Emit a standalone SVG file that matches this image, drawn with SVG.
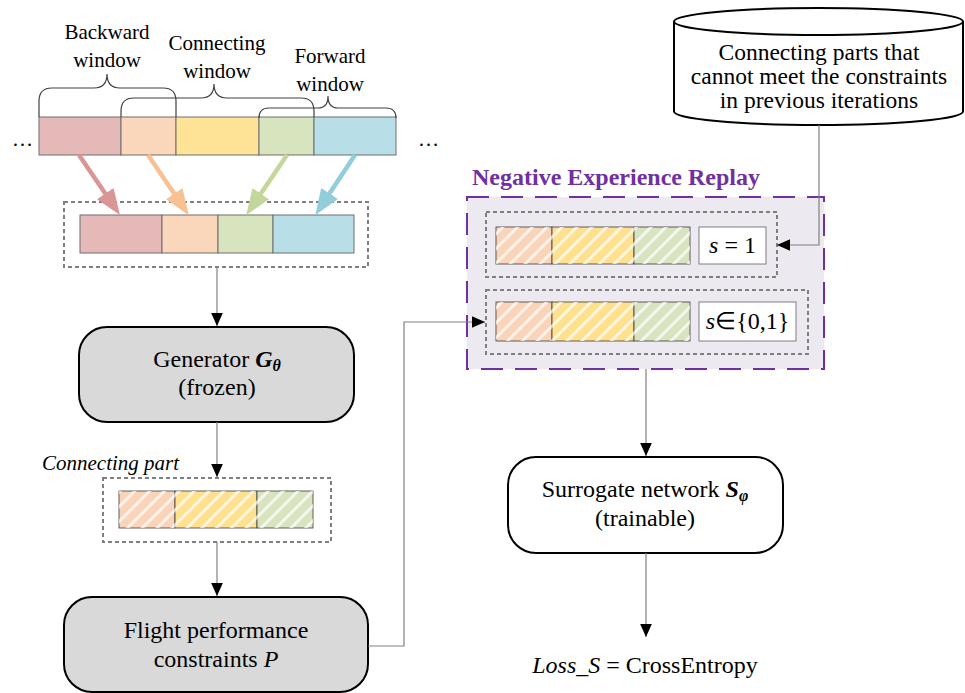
<svg xmlns="http://www.w3.org/2000/svg" width="965" height="693" viewBox="0 0 965 693">
<style>
.lbl{font-size:21px}
.main{font-size:24px}
.it{font-style:italic}
.bi{font-style:italic;font-weight:bold}
.seg{stroke:#6e6e6e;stroke-width:1}
.hseg{stroke:#3a3a3a;stroke-width:0.8}
.dash{fill:none;stroke:#7f7f7f;stroke-width:2;stroke-dasharray:4 3}
.conn{fill:none;stroke:#808080;stroke-width:1.2}
.brace{fill:none;stroke:#404040;stroke-width:1.2}
.box{stroke:#000;stroke-width:2}
</style>
<defs>
<pattern id="hatch" patternUnits="userSpaceOnUse" width="10.5" height="10.5" patternTransform="rotate(45)">
<rect x="0" y="0" width="3" height="10.5" fill="#fff" fill-opacity="0.7"/>
</pattern>
<marker id="ah" viewBox="0 0 10 10" refX="10" refY="5" markerWidth="13" markerHeight="13" markerUnits="userSpaceOnUse" orient="auto"><path d="M0,0.5 L10,5 L0,9.5 z" fill="#000"/></marker>
<marker id="apink" viewBox="0 0 13 10" refX="6.5" refY="5" markerWidth="26" markerHeight="20" markerUnits="userSpaceOnUse" orient="auto"><path d="M0,0 L13,5 L0,10 z" fill="#D99694"/></marker>
<marker id="apeach" viewBox="0 0 13 10" refX="6.5" refY="5" markerWidth="26" markerHeight="20" markerUnits="userSpaceOnUse" orient="auto"><path d="M0,0 L13,5 L0,10 z" fill="#F8C193"/></marker>
<marker id="agreen" viewBox="0 0 13 10" refX="6.5" refY="5" markerWidth="26" markerHeight="20" markerUnits="userSpaceOnUse" orient="auto"><path d="M0,0 L13,5 L0,10 z" fill="#C3D69B"/></marker>
<marker id="ablue" viewBox="0 0 13 10" refX="6.5" refY="5" markerWidth="26" markerHeight="20" markerUnits="userSpaceOnUse" orient="auto"><path d="M0,0 L13,5 L0,10 z" fill="#92CDDC"/></marker>
</defs>

<g id="windows" font-family="Liberation Serif">
<text class="lbl" x="12" y="146" font-family="Liberation Serif">…</text>
<text class="lbl" x="418" y="146" font-family="Liberation Serif">…</text>
<rect class="seg" x="39" y="117" width="82" height="38" fill="#E5B9B8"/>
<rect class="seg" x="121" y="117" width="55" height="38" fill="#FAD7BA"/>
<rect class="seg" x="176" y="117" width="83" height="38" fill="#FEE296"/>
<rect class="seg" x="259" y="117" width="55" height="38" fill="#D8E4BE"/>
<rect class="seg" x="314" y="117" width="82" height="38" fill="#B8DEE8"/>
<path class="brace" d="M39,117 V101 Q39,88 52,88 H94 Q107,88 107,74 Q107,88 120,88 H163 Q176,88 176,101 V117"/>
<path class="brace" d="M121,117 V111 Q121,98 134,98 H201 Q214,98 214,84 Q214,98 227,98 H301 Q314,98 314,111 V117"/>
<path class="brace" d="M259,117 V118 Q259,108 269,108 H318 Q328,108 328,96 Q328,108 338,108 H386 Q396,108 396,118"/>
<text class="lbl" x="107" y="39" text-anchor="middle" font-family="Liberation Serif">Backward</text>
<text class="lbl" x="107" y="67" text-anchor="middle" font-family="Liberation Serif">window</text>
<text class="lbl" x="217" y="50" text-anchor="middle" font-family="Liberation Serif">Connecting</text>
<text class="lbl" x="217" y="78" text-anchor="middle" font-family="Liberation Serif">window</text>
<text class="lbl" x="330" y="63" text-anchor="middle" font-family="Liberation Serif">Forward</text>
<text class="lbl" x="330" y="91" text-anchor="middle" font-family="Liberation Serif">window</text>
</g>

<g id="input-bar">
<rect class="dash" x="64" y="202" width="304" height="65"/>
<rect class="seg" x="80" y="215" width="82" height="38" fill="#E5B9B8"/>
<rect class="seg" x="162" y="215" width="56" height="38" fill="#FAD7BA"/>
<rect class="seg" x="218" y="215" width="55" height="38" fill="#D8E4BE"/>
<rect class="seg" x="273" y="215" width="81" height="38" fill="#B8DEE8"/>
</g>

<g id="generator">
<rect class="box" x="79" y="327" width="275" height="95" rx="28" fill="#D9D9D9"/>
<text class="main" x="217" y="367" text-anchor="middle" font-family="Liberation Serif">Generator <tspan class="bi">G</tspan><tspan class="bi" font-size="16" dy="4">θ</tspan></text>
<text class="main" x="217" y="395" text-anchor="middle" font-family="Liberation Serif">(frozen)</text>
</g>

<g id="connecting-part">
<text class="lbl it" x="42" y="470" font-family="Liberation Serif">Connecting part</text>
<rect class="dash" x="103" y="478" width="228" height="64"/>
<rect class="hseg" x="119" y="491" width="56" height="37" fill="#F9D4B8"/>
<rect class="hseg" x="175" y="491" width="82" height="37" fill="#FEE08F"/>
<rect class="hseg" x="257" y="491" width="56" height="37" fill="#D8E3BF"/>
<rect x="119" y="491" width="194" height="37" fill="url(#hatch)"/>
</g>

<g id="flight">
<rect class="box" x="64" y="597" width="304" height="95" rx="28" fill="#D9D9D9"/>
<text class="main" x="216" y="638" text-anchor="middle" font-family="Liberation Serif">Flight performance</text>
<text class="main" x="216" y="667" text-anchor="middle" font-family="Liberation Serif">constraints <tspan class="it">P</tspan></text>
</g>

<g id="memory">
<path class="box" d="M674,21.5 V111.5 A144.5,13.5 0 0 0 963,111.5 V21.5" fill="#fff"/>
<ellipse class="box" cx="818.5" cy="21.5" rx="144.5" ry="13.5" fill="#fff"/>
<text x="819" y="60" text-anchor="middle" font-size="23.5" font-family="Liberation Serif">Connecting parts that</text>
<text x="819" y="84" text-anchor="middle" font-size="23.5" font-family="Liberation Serif">cannot meet the constraints</text>
<text x="819" y="108" text-anchor="middle" font-size="23.5" font-family="Liberation Serif">in previous iterations</text>
</g>

<g id="replay">
<text x="472" y="185" font-size="24" font-weight="bold" fill="#7030A0" font-family="Liberation Serif">Negative Experience Replay</text>
<rect x="467" y="197" width="357" height="172" fill="#ECE9F1" stroke="#7030A0" stroke-width="2" stroke-dasharray="22 12"/>
<rect class="dash" x="486" y="212" width="291" height="65"/>
<rect class="hseg" x="496" y="227" width="56" height="37" fill="#F9D4B8"/>
<rect class="hseg" x="552" y="227" width="82" height="37" fill="#FEE08F"/>
<rect class="hseg" x="634" y="227" width="56" height="37" fill="#D8E3BF"/>
<rect x="496" y="227" width="194" height="37" fill="url(#hatch)"/>
<rect x="699" y="227" width="67" height="37" fill="#fff" stroke="#7f7f7f" stroke-width="1"/>
<text class="main" x="732.5" y="253" text-anchor="middle" font-family="Liberation Serif"><tspan class="it">s</tspan> = 1</text>
<rect class="dash" x="486" y="290" width="322" height="64"/>
<rect class="hseg" x="496" y="302" width="56" height="39" fill="#F9D4B8"/>
<rect class="hseg" x="552" y="302" width="82" height="39" fill="#FEE08F"/>
<rect class="hseg" x="634" y="302" width="56" height="39" fill="#D8E3BF"/>
<rect x="496" y="302" width="194" height="39" fill="url(#hatch)"/>
<rect x="699" y="302" width="97" height="39" fill="#fff" stroke="#7f7f7f" stroke-width="1"/>
<text class="main" x="747.5" y="329" text-anchor="middle" font-family="Liberation Serif"><tspan class="it">s</tspan>∈{0,1}</text>
</g>

<g id="surrogate">
<rect class="box" x="508" y="457" width="275" height="96" rx="28" fill="#fff"/>
<text class="main" x="645" y="497" text-anchor="middle" font-family="Liberation Serif">Surrogate network <tspan class="bi">S</tspan><tspan class="bi" font-size="16" dy="4">φ</tspan></text>
<text class="main" x="645" y="526" text-anchor="middle" font-family="Liberation Serif">(trainable)</text>
</g>

<g id="loss">
<text class="main" x="645" y="673" text-anchor="middle" font-family="Liberation Serif"><tspan class="it">Loss_S</tspan> = CrossEntropy</text>
</g>

<g id="connectors">
<line x1="79" y1="155" x2="112.6" y2="204.3" stroke="#D99694" stroke-width="4.5" marker-end="url(#apink)"/>
<line x1="148" y1="155" x2="181.5" y2="204.4" stroke="#F8C193" stroke-width="4.5" marker-end="url(#apeach)"/>
<line x1="287" y1="155" x2="253.5" y2="204.4" stroke="#C3D69B" stroke-width="4.5" marker-end="url(#agreen)"/>
<line x1="355" y1="155" x2="322.4" y2="204.3" stroke="#92CDDC" stroke-width="4.5" marker-end="url(#ablue)"/>
<line class="conn" x1="217" y1="267" x2="217" y2="326" marker-end="url(#ah)"/>
<line class="conn" x1="217" y1="422" x2="217" y2="477" marker-end="url(#ah)"/>
<line class="conn" x1="217" y1="542" x2="217" y2="596" marker-end="url(#ah)"/>
<polyline class="conn" points="368,646 404,646 404,322 485,322" marker-end="url(#ah)"/>
<polyline class="conn" points="819,125 819,245 777,245" marker-end="url(#ah)"/>
<line class="conn" x1="646" y1="369" x2="646" y2="456" marker-end="url(#ah)"/>
<line class="conn" x1="646" y1="553" x2="646" y2="637" marker-end="url(#ah)"/>
</g>
</svg>
